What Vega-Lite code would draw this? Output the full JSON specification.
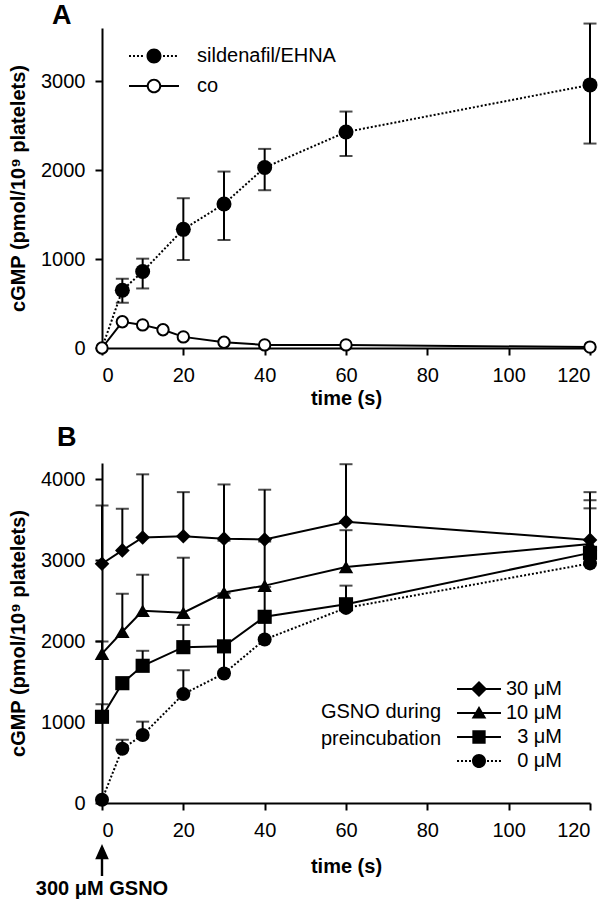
{
  "$schema": "https://vega.github.io/schema/vega-lite/v6.json",
  "background": "white",
  "padding": {"left": 8, "right": 5, "top": 1, "bottom": 0},
  "spacing": 16,
  "config": {
    "font": "Liberation Sans",
    "view": {"stroke": null},
    "axis": {"domainColor": "black", "domainWidth": 2, "tickColor": "black", "tickWidth": 2, "tickSize": 7, "labelColor": "black", "labelFontSize": 20, "labelFont": "Liberation Sans", "labelPadding": 10, "titleFont": "Liberation Sans", "titleFontSize": 20, "titleFontWeight": "bold", "titleColor": "black", "grid": false},
    "title": {"font": "Liberation Sans", "fontSize": 27, "fontWeight": "bold", "anchor": "start", "color": "black", "frame": "group", "baseline": "alphabetic"},
    "legend": {"labelFont": "Liberation Sans", "labelFontSize": 20, "labelColor": "black", "titleFont": "Liberation Sans", "titleColor": "black", "padding": 0, "symbolStrokeWidth": 0, "symbolFillColor": "black", "symbolOpacity": 1}
  },
  "resolve": {"scale": {"x": "independent", "y": "independent", "shape": "independent"}, "legend": {"shape": "independent"}},
  "datasets": {
    "a": [
      {"series": "sildenafil/EHNA", "t": 0, "v": 0},
      {"series": "sildenafil/EHNA", "t": 5, "v": 650, "lo": 510, "hi": 780},
      {"series": "sildenafil/EHNA", "t": 10, "v": 860, "lo": 670, "hi": 1005},
      {"series": "sildenafil/EHNA", "t": 20, "v": 1335, "lo": 990, "hi": 1685},
      {"series": "sildenafil/EHNA", "t": 30, "v": 1620, "lo": 1215, "hi": 1985},
      {"series": "sildenafil/EHNA", "t": 40, "v": 2030, "lo": 1775, "hi": 2240},
      {"series": "sildenafil/EHNA", "t": 60, "v": 2430, "lo": 2160, "hi": 2660},
      {"series": "sildenafil/EHNA", "t": 120, "v": 2960, "lo": 2300, "hi": 3650},
      {"series": "co", "t": 0, "v": 0},
      {"series": "co", "t": 5, "v": 295},
      {"series": "co", "t": 10, "v": 260},
      {"series": "co", "t": 15, "v": 205},
      {"series": "co", "t": 20, "v": 125},
      {"series": "co", "t": 30, "v": 65},
      {"series": "co", "t": 40, "v": 35},
      {"series": "co", "t": 60, "v": 35},
      {"series": "co", "t": 120, "v": 10}
    ],
    "b": [
      {"series": "30 μM", "t": 0, "v": 2955, "hi": 3675},
      {"series": "30 μM", "t": 5, "v": 3120, "hi": 3635},
      {"series": "30 μM", "t": 10, "v": 3280, "hi": 4060},
      {"series": "30 μM", "t": 20, "v": 3295, "hi": 3840},
      {"series": "30 μM", "t": 30, "v": 3265, "hi": 3935},
      {"series": "30 μM", "t": 40, "v": 3255, "hi": 3870},
      {"series": "30 μM", "t": 60, "v": 3475, "hi": 4185},
      {"series": "30 μM", "t": 120, "v": 3250, "hi": 3840},
      {"series": "10 μM", "t": 0, "v": 1845, "hi": 1995},
      {"series": "10 μM", "t": 5, "v": 2115, "hi": 2585},
      {"series": "10 μM", "t": 10, "v": 2375, "hi": 2820},
      {"series": "10 μM", "t": 20, "v": 2350, "hi": 3030},
      {"series": "10 μM", "t": 30, "v": 2600, "hi": 3240},
      {"series": "10 μM", "t": 40, "v": 2685, "hi": 3230},
      {"series": "10 μM", "t": 60, "v": 2915, "hi": 3370},
      {"series": "10 μM", "t": 120, "v": 3200, "hi": 3740},
      {"series": "3 μM", "t": 0, "v": 1065, "hi": 1220},
      {"series": "3 μM", "t": 5, "v": 1480, "hi": 1540},
      {"series": "3 μM", "t": 10, "v": 1695, "hi": 1880},
      {"series": "3 μM", "t": 20, "v": 1925, "hi": 2200},
      {"series": "3 μM", "t": 30, "v": 1935, "hi": 2590},
      {"series": "3 μM", "t": 40, "v": 2300, "hi": 2670},
      {"series": "3 μM", "t": 60, "v": 2455, "hi": 2685},
      {"series": "3 μM", "t": 120, "v": 3090, "hi": 3640},
      {"series": "0 μM", "t": 0, "v": 40},
      {"series": "0 μM", "t": 5, "v": 670, "hi": 780},
      {"series": "0 μM", "t": 10, "v": 840, "hi": 1005},
      {"series": "0 μM", "t": 20, "v": 1345, "hi": 1640},
      {"series": "0 μM", "t": 30, "v": 1600, "hi": 1920},
      {"series": "0 μM", "t": 40, "v": 2020, "hi": 2290},
      {"series": "0 μM", "t": 60, "v": 2410},
      {"series": "0 μM", "t": 120, "v": 2960}
    ],
    "note": [{"t": 0, "label": "300 μM GSNO"}]
  },
  "vconcat": [
    {
      "title": {"text": "A", "dx": -50, "offset": -7},
      "width": 488,
      "height": 320,
      "data": {"name": "a"},
      "encoding": {
        "x": {"field": "t", "type": "quantitative", "scale": {"domain": [0, 120], "nice": false}, "axis": {"title": "time (s)", "values": [0, 20, 40, 60, 80, 100, 120], "titlePadding": 3}}
      },
      "layer": [
        {
          "transform": [{"filter": "datum.series == 'sildenafil/EHNA'"}],
          "mark": {"type": "line", "color": "black", "strokeWidth": 2, "strokeDash": [2, 2]},
          "encoding": {
            "y": {"field": "v", "type": "quantitative", "scale": {"domain": [0, 3600], "nice": false}, "axis": {"title": "cGMP (pmol/10⁹ platelets)", "values": [0, 1000, 2000, 3000], "format": "d", "titlePadding": 12}}
          }
        },
        {
          "transform": [{"filter": "datum.series == 'co'"}],
          "mark": {"type": "line", "color": "black", "strokeWidth": 2},
          "encoding": {"y": {"field": "v", "type": "quantitative"}}
        },
        {
          "transform": [{"filter": "isValid(datum.lo)"}],
          "mark": {"type": "rule", "color": "black", "strokeWidth": 2},
          "encoding": {"y": {"field": "lo", "type": "quantitative"}, "y2": {"field": "hi"}}
        },
        {
          "transform": [{"filter": "isValid(datum.lo)"}],
          "mark": {"type": "tick", "orient": "horizontal", "color": "black", "size": 13, "thickness": 2},
          "encoding": {"y": {"field": "lo", "type": "quantitative"}}
        },
        {
          "transform": [{"filter": "isValid(datum.hi)"}],
          "mark": {"type": "tick", "orient": "horizontal", "color": "black", "size": 13, "thickness": 2},
          "encoding": {"y": {"field": "hi", "type": "quantitative"}}
        },
        {
          "transform": [{"filter": "datum.series == 'sildenafil/EHNA' && datum.t > 0"}],
          "mark": {"type": "point", "filled": true, "opacity": 1, "color": "black", "strokeWidth": 0, "size": 225, "shape": "circle"},
          "encoding": {"y": {"field": "v", "type": "quantitative"}}
        },
        {
          "transform": [{"filter": "datum.series == 'co'"}],
          "mark": {"type": "point", "filled": true, "opacity": 1, "fill": "white", "stroke": "black", "strokeWidth": 2, "size": 130, "shape": "circle"},
          "encoding": {"y": {"field": "v", "type": "quantitative"}}
        },
        {
          "mark": {"type": "point", "filled": true, "opacity": 0, "color": "black", "strokeWidth": 0},
          "encoding": {
            "y": {"field": "v", "type": "quantitative"},
            "shape": {"field": "series", "type": "nominal",
              "scale": {"domain": ["sildenafil/EHNA", "co"], "range": [
                "M1,0A1,1,0,1,1,-1,0A1,1,0,1,1,1,0Z M-3.33,-0.133h0.267v0.267h-0.267Z M-2.8,-0.133h0.267v0.267h-0.267Z M-2.27,-0.133h0.267v0.267h-0.267Z M-1.74,-0.133h0.267v0.267h-0.267Z M1.2,-0.133h0.267v0.267h-0.267Z M1.73,-0.133h0.267v0.267h-0.267Z M2.26,-0.133h0.267v0.267h-0.267Z M2.79,-0.133h0.267v0.267h-0.267Z",
                "M0.97,0A0.97,0.97,0,1,1,-0.97,0A0.97,0.97,0,1,1,0.97,0Z M0.7,0A0.7,0.7,0,1,0,-0.7,0A0.7,0.7,0,1,0,0.7,0Z M-3.33,-0.133H-0.95V0.133H-3.33Z M0.95,-0.133H3.33V0.133H0.95Z"
              ]},
              "legend": {"title": null, "orient": "none", "legendX": 42, "legendY": 18, "labelOffset": 33, "rowPadding": 10, "symbolSize": 225, "symbolOpacity": 1, "symbolFillColor": "black", "symbolStrokeWidth": 0}
            }
          }
        }
      ]
    },
    {
      "title": {"text": "B", "dx": -45, "offset": 11},
      "width": 488,
      "height": 340,
      "data": {"name": "b"},
      "encoding": {
        "x": {"field": "t", "type": "quantitative", "scale": {"domain": [0, 120], "nice": false}, "axis": {"title": "time (s)", "values": [0, 20, 40, 60, 80, 100, 120], "titlePadding": 16}}
      },
      "layer": [
        {
          "transform": [{"filter": "datum.series != '0 μM'"}],
          "mark": {"type": "line", "color": "black", "strokeWidth": 2},
          "encoding": {
            "y": {"field": "v", "type": "quantitative", "scale": {"domain": [0, 4200], "nice": false}, "axis": {"title": "cGMP (pmol/10⁹ platelets)", "values": [0, 1000, 2000, 3000, 4000], "format": "d", "titlePadding": 12}},
            "detail": {"field": "series", "type": "nominal"}
          }
        },
        {
          "transform": [{"filter": "datum.series == '0 μM'"}],
          "mark": {"type": "line", "color": "black", "strokeWidth": 2, "strokeDash": [2, 2]},
          "encoding": {"y": {"field": "v", "type": "quantitative"}}
        },
        {
          "transform": [{"filter": "isValid(datum.hi)"}],
          "mark": {"type": "rule", "color": "black", "strokeWidth": 2},
          "encoding": {"y": {"field": "v", "type": "quantitative"}, "y2": {"field": "hi"}}
        },
        {
          "transform": [{"filter": "isValid(datum.hi)"}],
          "mark": {"type": "tick", "orient": "horizontal", "color": "black", "size": 13, "thickness": 2},
          "encoding": {"y": {"field": "hi", "type": "quantitative"}}
        },
        {
          "transform": [{"filter": "datum.series == '30 μM'"}],
          "mark": {"type": "point", "filled": true, "opacity": 1, "color": "black", "strokeWidth": 0, "size": 215, "shape": "diamond"},
          "encoding": {"y": {"field": "v", "type": "quantitative"}}
        },
        {
          "transform": [{"filter": "datum.series == '10 μM'"}],
          "mark": {"type": "point", "filled": true, "opacity": 1, "color": "black", "strokeWidth": 0, "size": 210, "shape": "triangle-up"},
          "encoding": {"y": {"field": "v", "type": "quantitative"}}
        },
        {
          "transform": [{"filter": "datum.series == '3 μM'"}],
          "mark": {"type": "point", "filled": true, "opacity": 1, "color": "black", "strokeWidth": 0, "size": 200, "shape": "square"},
          "encoding": {"y": {"field": "v", "type": "quantitative"}}
        },
        {
          "transform": [{"filter": "datum.series == '0 μM'"}],
          "mark": {"type": "point", "filled": true, "opacity": 1, "color": "black", "strokeWidth": 0, "size": 196, "shape": "circle"},
          "encoding": {"y": {"field": "v", "type": "quantitative"}}
        },
        {
          "mark": {"type": "point", "filled": true, "opacity": 0, "color": "black", "strokeWidth": 0},
          "encoding": {
            "y": {"field": "v", "type": "quantitative"},
            "shape": {"field": "series", "type": "nominal",
              "scale": {"domain": ["30 μM", "10 μM", "3 μM", "0 μM"], "range": [
                "M0,-1.15L1.15,0L0,1.15L-1.15,0Z M-3.14,-0.143H-1V0.143H-3.14Z M1,-0.143H3.14V0.143H1Z",
                "M0,-1L1.05,0.8L-1.05,0.8Z M-3.14,-0.143H-0.5V0.143H-3.14Z M0.5,-0.143H3.14V0.143H0.5Z",
                "M-0.95,-0.95H0.95V0.95H-0.95Z M-3.14,-0.143H-0.9V0.143H-3.14Z M0.9,-0.143H3.14V0.143H0.9Z",
                "M1,0A1,1,0,1,1,-1,0A1,1,0,1,1,1,0Z M-3.14,-0.14h0.29v0.28h-0.29Z M-2.57,-0.14h0.29v0.28h-0.29Z M-2,-0.14h0.29v0.28h-0.29Z M-1.43,-0.14h0.29v0.28h-0.29Z M1.14,-0.14h0.29v0.28h-0.29Z M1.71,-0.14h0.29v0.28h-0.29Z M2.28,-0.14h0.29v0.28h-0.29Z M2.85,-0.14h0.29v0.28h-0.29Z"
              ]},
              "legend": {
                "title": ["GSNO during", "preincubation"], "titleOrient": "left", "titleAnchor": "middle", "titleAlign": "center", "titleBaseline": "middle", "titleFontWeight": "normal", "titleFontSize": 20, "titleLineHeight": 27, "titlePadding": -33,
                "orient": "none", "legendX": 219, "legendY": 216, "labelAlign": "right", "labelOffset": 73, "rowPadding": 4, "symbolSize": 196, "symbolOpacity": 1, "symbolFillColor": "black", "symbolStrokeWidth": 0
              }
            }
          }
        },
        {
          "data": {"name": "note"},
          "mark": {"type": "point", "filled": true, "opacity": 1, "color": "black", "strokeWidth": 0, "size": 256, "shape": "M0,-1L0.85,0.9L0.15,0.9L0.15,3L-0.15,3L-0.15,0.9L-0.85,0.9Z", "yOffset": 49},
          "encoding": {"y": {"datum": 0, "type": "quantitative"}}
        },
        {
          "data": {"name": "note"},
          "mark": {"type": "text", "font": "Liberation Sans", "fontSize": 20, "fontWeight": "bold", "color": "black", "align": "center", "baseline": "middle", "yOffset": 86},
          "encoding": {"y": {"datum": 0, "type": "quantitative"}, "text": {"field": "label"}}
        }
      ]
    }
  ]
}
